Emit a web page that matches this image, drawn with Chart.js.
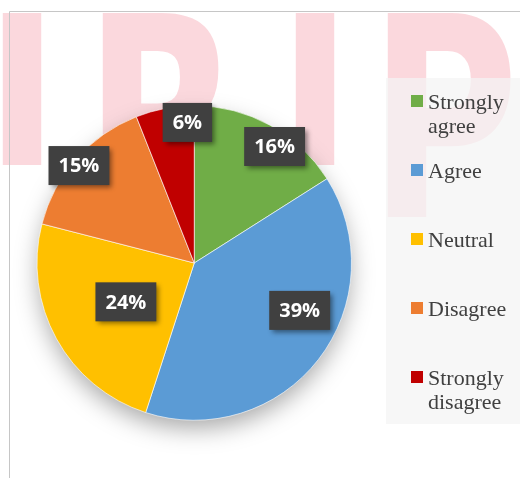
<!DOCTYPE html>
<html>
<head>
<meta charset="utf-8">
<script src="https://cdn.jsdelivr.net/npm/chart.js@4.4.0/dist/chart.umd.min.js"></script>
<style>
	body { margin: 0; background: #fff; }
	#wrap { position: relative; width: 520px; height: 478px; }
	#legend {
		position: absolute; left: 386px; top: 78px; width: 134px; height: 346px;
		background: rgba(244, 244, 244, 0.72);
		font-family: 'Liberation Serif', serif; font-size: 22px; color: #404040;
	}
	.item { position: absolute; left: 25px; width: 105px; padding-left: 17px; line-height: 24px; }
	.swatch { position: absolute; left: 0; top: 5px; width: 12px; height: 12px; }
</style>
</head>
<body>
<div id="wrap">
	<canvas id="myChart" width="520" height="478"></canvas>
	<div id="legend"></div>
</div>
<script>
	const labels = ['Strongly agree', 'Agree', 'Neutral', 'Disagree', 'Strongly disagree'];
	const percents = [16, 39, 24, 15, 6];
	const colors = ['#70AD47', '#5B9BD5', '#FFC000', '#ED7D31', '#C00000'];

	// where each percent box sits: fraction of radius, and turn (deg) from slice middle
	const labelRadius = [0.90, 0.735, 0.50, 0.96, 0.895];
	const labelTurn = [5.8, -13.6, -0.8, -1.2, 8.0];

	const backdrop = {
		id: 'backdrop',
		beforeDraw(chart) {
			const ctx = chart.ctx;
			ctx.save();
			// pale watermark letters
			ctx.fillStyle = 'rgba(250, 200, 206, 0.7)';
			ctx.font = 'bold 280px "DejaVu Sans"';
			ctx.textBaseline = 'alphabetic';
			const sx = 0.73;
			ctx.scale(sx, 1);
			[['I', 0], ['R', 100], ['I', 293], ['P', 385]].forEach(([ch, left]) => {
				const m = ctx.measureText(ch);
				ctx.fillText(ch, left / sx + m.actualBoundingBoxLeft, 217);
			});
			ctx.restore();
			ctx.save();
			ctx.fillStyle = '#fff';
			ctx.fillRect(0, 165, 386, 313);
			// frame
			ctx.strokeStyle = '#c6c6c6';
			ctx.lineWidth = 1;
			ctx.beginPath();
			ctx.moveTo(9.5, 478);
			ctx.lineTo(9.5, 11.5);
			ctx.lineTo(520, 11.5);
			ctx.stroke();
			ctx.restore();
		},
		beforeDatasetsDraw(chart) {
			const arc = chart.getDatasetMeta(0).data[0];
			const ctx = chart.ctx;
			ctx.save();
			ctx.shadowColor = 'rgba(0,0,0,0.35)';
			ctx.shadowBlur = 24;
			ctx.shadowOffsetY = 10;
			ctx.fillStyle = '#fff';
			ctx.beginPath();
			ctx.arc(arc.x, arc.y, arc.outerRadius - 2, 0, Math.PI * 2);
			ctx.fill();
			ctx.restore();
		},
		afterDatasetsDraw(chart) {
			const ctx = chart.ctx;
			const meta = chart.getDatasetMeta(0);
			ctx.save();
			ctx.font = 'bold 20px "Open Sans"';
			ctx.textAlign = 'center';
			ctx.textBaseline = 'middle';
			meta.data.forEach((arc, i) => {
				const a = (arc.startAngle + arc.endAngle) / 2 + labelTurn[i] * Math.PI / 180;
				const r = arc.outerRadius * labelRadius[i];
				const x = arc.x + Math.cos(a) * r;
				const y = arc.y + Math.sin(a) * r;
				const txt = percents[i] + '%';
				const w = ctx.measureText(txt).width + 20;
				const h = 39;
				ctx.save();
				ctx.shadowColor = 'rgba(0,0,0,0.45)';
				ctx.shadowBlur = 5;
				ctx.shadowOffsetX = 3;
				ctx.shadowOffsetY = 3;
				ctx.fillStyle = '#404040';
				ctx.fillRect(x - w / 2, y - h / 2, w, h);
				ctx.restore();
				ctx.fillStyle = '#fff';
				ctx.fillText(txt, x, y + 1);
			});
			ctx.restore();
		},
	};

	const ctx = document.getElementById('myChart');
	new Chart(ctx, {
		type: 'pie',
		data: {
			labels: labels,
			datasets: [
				{
					data: percents,
					backgroundColor: colors,
					borderColor: 'rgba(255,255,255,0.6)',
					borderWidth: 1,
				},
			],
		},
		options: {
			responsive: false,
			animation: false,
			layout: { padding: { left: 36.5, top: 105, right: 168, bottom: 57 } },
			plugins: {
				legend: { display: false },
				tooltip: { enabled: false },
			},
		},
		plugins: [backdrop],
	});

	// legend on the right
	const legend = document.getElementById('legend');
	labels.forEach((name, i) => {
		const item = document.createElement('div');
		item.className = 'item';
		item.style.top = (12 + i * 69) + 'px';
		const sw = document.createElement('span');
		sw.className = 'swatch';
		sw.style.background = colors[i];
		item.appendChild(sw);
		item.appendChild(document.createTextNode(name));
		legend.appendChild(item);
	});
</script>
</body>
</html>
